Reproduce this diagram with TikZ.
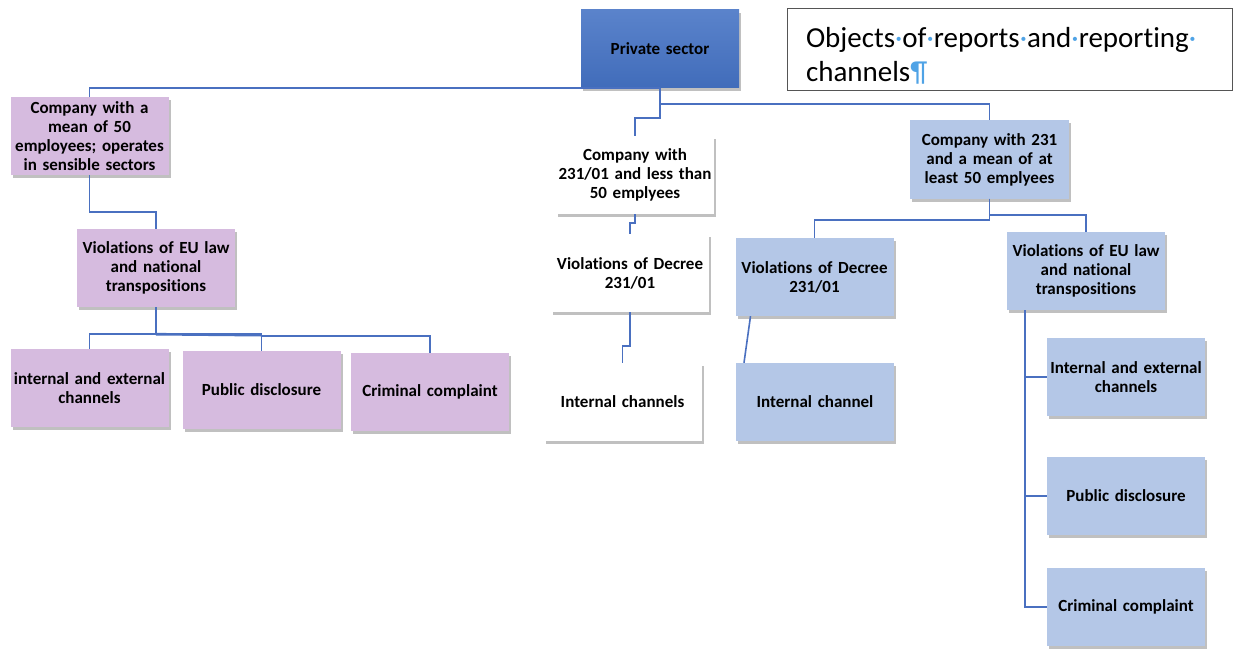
\documentclass[tikz,border=0pt]{standalone}
\usepackage{fontspec}
\setmainfont{Carlito}[Ligatures={NoCommon}]
\usetikzlibrary{shadows}
\definecolor{psblue}{HTML}{4472C4}
\definecolor{lblue}{HTML}{B4C7E7}
\definecolor{pink}{HTML}{D6BBDF}
\definecolor{linec}{HTML}{4A70C0}
\definecolor{dotblue}{HTML}{4FA3E6}
\definecolor{tgray}{HTML}{555555}
\tikzset{
  box/.style={draw=none, minimum width=157pt, minimum height=78pt, text width=156pt,
    align=center, inner sep=1pt, font=\bfseries\fontsize{17}{19}\selectfont,
    drop shadow={shadow xshift=2pt, shadow yshift=-3pt, opacity=0.35, fill=black!70}},
  pinkbox/.style={box, fill=pink},
  bluebox/.style={box, fill=lblue},
  whitebox/.style={box, fill=white},
  conn/.style={draw=linec, line width=1.6pt},
}
\begin{document}
\begin{tikzpicture}[x=1pt,y=-1pt]
\useasboundingbox[fill=white] (0,0) rectangle (1234,650);
% top
\node[box, top color=psblue!88!white, bottom color=psblue!95!black, minimum width=156pt] (ps) at (660,49) {Private sector};
\node[draw=tgray, line width=1pt, fill=white, minimum width=445pt, minimum height=82pt, text width=407pt, align=left, inner sep=0pt, font=\fontsize{29}{34}\selectfont] (title) at (1009.5,50)
 {\rule{0pt}{32pt}Objects\textcolor{dotblue}{·}of\textcolor{dotblue}{·}reports\textcolor{dotblue}{·}and\textcolor{dotblue}{·}reporting\textcolor{dotblue}{·}\\channels\textcolor{dotblue}{¶}};
% left branch
\node[pinkbox] (pc) at (89.5,136) {Company with a\\mean of 50\\employees; operates\\in sensible sectors};
\node[pinkbox] (pv) at (156,268) {Violations of EU law\\and national\\transpositions};
\node[pinkbox] (pie) at (89.5,388) {internal and external\\channels};
\node[pinkbox] (ppd) at (261.5,390) {Public disclosure};
\node[pinkbox] (pcc) at (430,392) {Criminal complaint};
% middle branch
\node[whitebox] (wc) at (635,175) {Company with\\231/01 and less than\\50 emplyees};
\node[whitebox] (wv) at (630,273) {Violations of Decree\\231/01};
\node[whitebox] (wi) at (622.5,402) {Internal channels};
% right branch
\node[bluebox, minimum width=159pt] (bc) at (989.5,159.5) {Company with 231\\and a mean of at\\least 50 emplyees};
\node[bluebox] (bv) at (814.5,277) {Violations of Decree\\231/01};
\node[bluebox, minimum width=158pt] (be) at (1086,271) {Violations of EU law\\and national\\transpositions};
\node[bluebox] (bi) at (815,402) {Internal channel};
\node[bluebox, minimum width=158pt] (bie) at (1126,377) {Internal and external\\channels};
\node[bluebox, minimum width=158pt] (bpd) at (1126,496) {Public disclosure};
\node[bluebox, minimum width=158pt] (bcc) at (1126,607) {Criminal complaint};
% connectors
\draw[conn] (pc.north) |- (ps.south);
\draw[conn] (ps.south) -- ++(0,16) -| (bc.north);
\draw[conn] (ps.south) -- ++(0,30) -| (wc.north);
\draw[conn] (pc.south) -- ++(0,37) -| (pv.north);
\draw[conn] (pv.south) -- ++(0,27) coordinate (pj);
\draw[conn] (pie.north) |- (pj) -| (ppd.north);
\draw[conn, line width=2.6pt] (pj) -- ++(105,1);
\draw[conn] ([yshift=-2pt]ppd.north |- pj) -| (pcc.north);
\draw[conn] (wc.south) -- ++(0,9) -| (wv.north);
\draw[conn] (wv.south) -- ++(0,34) -| (wi.north);
\draw[conn] (bc.south) -- ++(0,21) -| (bv.north);
\draw[conn] (bc.south) -- ++(0,16) -| (be.north);
\draw[conn] ([xshift=-64pt]bv.south) -- ([xshift=-71pt]bi.north);
\coordinate (bt) at ([xshift=-61pt]be.south);
\draw[conn] (bt) |- (bie.west);
\draw[conn] (bt) |- (bpd.west);
\draw[conn] (bt) |- (bcc.west);
\end{tikzpicture}
\end{document}
